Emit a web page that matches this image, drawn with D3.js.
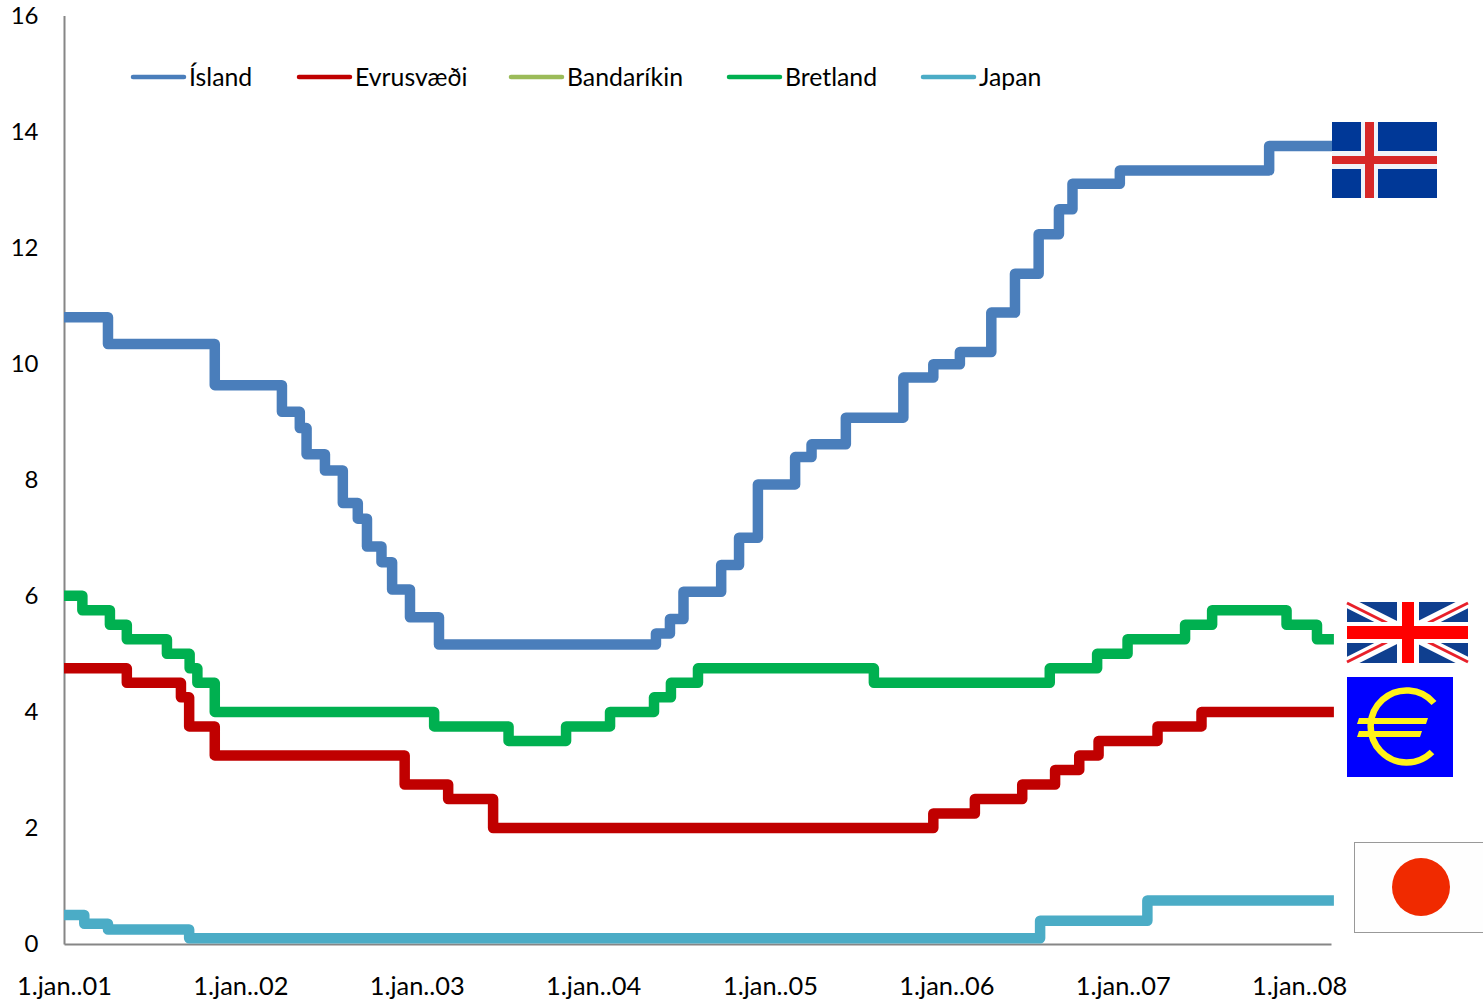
<!DOCTYPE html>
<html>
<head>
<meta charset="utf-8">
<title>Stýrivextir</title>
<script src="https://cdnjs.cloudflare.com/ajax/libs/d3/7.8.5/d3.min.js"></script>
<style>
    html, body { margin: 0; padding: 0; background: #fff; }
    svg { display: block; }
    text { font-family: Lato, "Open Sans", sans-serif; font-size: 24.8px; fill: #000; }
    .xAxis text { font-size: 25.4px; }
    .yAxis text { font-size: 24px; }
</style>
</head>
<body>
<div id="canvas"></div>
<script>
// policy rates, each date is the day a new rate starts
const islandDates = ["2001-01-01", "2001-04-02", "2001-11-09", "2002-03-28", "2002-05-04", "2002-05-18", "2002-06-25", "2002-08-01", "2002-09-01", "2002-09-20", "2002-10-20", "2002-11-11", "2002-12-18", "2003-02-16", "2004-05-10", "2004-06-08", "2004-07-06", "2004-09-22", "2004-10-29", "2004-12-07", "2005-02-22", "2005-03-28", "2005-06-07", "2005-10-04", "2005-12-05", "2006-01-29", "2006-04-04", "2006-05-23", "2006-07-11", "2006-08-22", "2006-09-19", "2006-12-26", "2007-10-31"];
const islandRates = [10.8, 10.34, 9.63, 9.17, 8.89, 8.44, 8.16, 7.6, 7.33, 6.85, 6.58, 6.11, 5.63, 5.16, 5.35, 5.6, 6.07, 6.53, 7.0, 7.92, 8.39, 8.61, 9.07, 9.76, 9.99, 10.2, 10.88, 11.55, 12.23, 12.66, 13.1, 13.33, 13.75];

const evruDates = ["2001-01-01", "2001-05-11", "2001-08-31", "2001-09-17", "2001-11-09", "2002-12-07", "2003-03-07", "2003-06-08", "2005-12-05", "2006-03-01", "2006-06-07", "2006-08-14", "2006-10-03", "2006-11-12", "2007-03-14", "2007-06-13"];
const evruRates = [4.75, 4.5, 4.25, 3.75, 3.25, 2.75, 2.5, 2.0, 2.25, 2.5, 2.75, 3.0, 3.25, 3.5, 3.75, 4.0];

// no line for the US in the chart, only the legend entry
const bandarikinDates = [];
const bandarikinRates = [];

const bretlandDates = ["2001-01-01", "2001-02-08", "2001-04-06", "2001-05-11", "2001-08-02", "2001-09-18", "2001-10-04", "2001-11-09", "2003-02-06", "2003-07-10", "2003-11-06", "2004-02-05", "2004-05-06", "2004-06-10", "2004-08-05", "2005-08-04", "2006-08-03", "2006-11-09", "2007-01-11", "2007-05-10", "2007-07-05", "2007-12-06", "2008-02-07"];
const bretlandRates = [6.0, 5.75, 5.5, 5.25, 5.0, 4.75, 4.5, 4.0, 3.75, 3.5, 3.75, 4.0, 4.25, 4.5, 4.75, 4.5, 4.75, 5.0, 5.25, 5.5, 5.75, 5.5, 5.25];

const japanDates = ["2001-01-01", "2001-02-12", "2001-04-02", "2001-09-17", "2006-07-14", "2007-02-21"];
const japanRates = [0.5, 0.35, 0.25, 0.1, 0.4, 0.75];

const lastDate = "2008-03-13";

const seriesNames = ["Ísland", "Evrusvæði", "Bandaríkin", "Bretland", "Japan"];
const seriesDates = [islandDates, evruDates, bandarikinDates, bretlandDates, japanDates];
const seriesRates = [islandRates, evruRates, bandarikinRates, bretlandRates, japanRates];
const seriesColors = ["#4a7ebb", "#c00000", "#9bbb59", "#00b050", "#4bacc6"];

const xTickDates = ["2001-01-01", "2002-01-01", "2003-01-01", "2004-01-01", "2005-01-01", "2006-01-01", "2007-01-01", "2008-01-01"];
const xTickLabels = ["1.jan..01", "1.jan..02", "1.jan..03", "1.jan..04", "1.jan..05", "1.jan..06", "1.jan..07", "1.jan..08"];
const yTicks = [0, 2, 4, 6, 8, 10, 12, 14, 16];

const width = 1483;
const height = 1007;
const parseDate = d3.timeParse("%Y-%m-%d");

const x = d3.scaleTime()
    .domain([parseDate("2001-01-01"), parseDate("2008-03-07")])
    .range([64, 1331]);
const y = d3.scaleLinear()
    .domain([0, 16])
    .range([944, 15.5]);

const canvas = d3.select("#canvas")
    .append("svg")
    .attr("width", width)
    .attr("height", height);

/* AXES */
const xAxis = d3.axisBottom(x)
    .tickValues(xTickDates.map(parseDate))
    .tickFormat((d, i) => xTickLabels[i])
    .tickSize(0)
    .tickPadding(33);
const yAxis = d3.axisLeft(y)
    .tickValues(yTicks)
    .tickSize(0)
    .tickPadding(25.5);

canvas.append("g").attr("class", "xAxis").attr("transform", `translate(0,${y(0)})`).call(xAxis);
canvas.append("g").attr("class", "yAxis").attr("transform", `translate(${x.range()[0]},0)`).call(yAxis);
canvas.selectAll(".domain").attr("stroke", "#868686").attr("stroke-width", 2);

/* LINES */
const line = d3.line()
    .curve(d3.curveStepAfter)
    .x(d => x(d.date))
    .y(d => y(d.rate));

const series = seriesNames.map((name, i) => {
    const points = seriesDates[i].map((d, j) => ({ date: parseDate(d), rate: seriesRates[i][j] }));
    if (points.length) points.push({ date: parseDate(lastDate), rate: points[points.length - 1].rate });
    return { name: name, color: seriesColors[i], points: points };
});

canvas.selectAll(".rate")
    .data(series.filter(d => d.points.length))
    .join("path")
    .attr("class", "rate")
    .attr("fill", "none")
    .attr("stroke", d => d.color)
    .attr("stroke-width", 10.5)
    .attr("stroke-linejoin", "round")
    .attr("d", d => line(d.points));

/* LEGEND */
const legendLeft = [131, 297, 509, 727, 921];
const legend = canvas.selectAll(".legend")
    .data(series)
    .join("g")
    .attr("class", "legend")
    .attr("transform", (d, i) => `translate(${legendLeft[i]},77)`);
legend.append("line")
    .attr("x1", 2)
    .attr("x2", 53)
    .attr("stroke", d => d.color)
    .attr("stroke-width", 4.5)
    .attr("stroke-linecap", "round");
legend.append("text")
    .attr("x", 58)
    .attr("y", 9)
    .text(d => d.name);

/* FLAGS */
const iceland = canvas.append("g").attr("transform", "translate(1332,122)");
iceland.append("rect").attr("width", 105).attr("height", 76).attr("fill", "#003897");
iceland.append("rect").attr("x", 29).attr("width", 17).attr("height", 76).attr("fill", "#f0f3f8");
iceland.append("rect").attr("y", 29).attr("width", 105).attr("height", 18).attr("fill", "#f0f3f8");
iceland.append("rect").attr("x", 33).attr("width", 9).attr("height", 76).attr("fill", "#d72828");
iceland.append("rect").attr("y", 34).attr("width", 105).attr("height", 8).attr("fill", "#d72828");

const uk = canvas.append("g").attr("transform", "translate(1347,602)");
uk.append("rect").attr("width", 121).attr("height", 61).attr("fill", "#0f3f8f");
uk.append("path").attr("d", "M0 0L121 61M121 0L0 61").attr("stroke", "#fff").attr("stroke-width", 11);
uk.append("path").attr("d", "M0 1L40 21M121 1L81 21M0 60L40 40M121 60L81 40").attr("stroke", "#e8202a").attr("stroke-width", 3);
uk.append("rect").attr("x", 50).attr("width", 22).attr("height", 61).attr("fill", "#fff");
uk.append("rect").attr("y", 20).attr("width", 121).attr("height", 21).attr("fill", "#fff");
uk.append("rect").attr("x", 55).attr("width", 12).attr("height", 61).attr("fill", "#ff0000");
uk.append("rect").attr("y", 24).attr("width", 121).attr("height", 13).attr("fill", "#ff0000");

const euro = canvas.append("g").attr("transform", "translate(1347,677)");
euro.append("rect").attr("width", 106).attr("height", 100).attr("fill", "#0000ff");
euro.append("path").attr("d", "M87 26A36 36 0 1 0 85 75").attr("fill", "none").attr("stroke", "#fff21a").attr("stroke-width", 6.5);
euro.append("path").attr("d", "M12 41L81 41L79 47L10 47ZM12 54L75 54L73 60L10 60Z").attr("fill", "#fff21a");

const japan = canvas.append("g").attr("transform", "translate(1354,842)");
japan.append("rect").attr("x", 0.5).attr("y", 0.5).attr("width", 140).attr("height", 90).attr("fill", "#fefefe").attr("stroke", "#999").attr("stroke-width", 1);
japan.append("circle").attr("cx", 67).attr("cy", 45).attr("r", 29).attr("fill", "#f02a00");
</script>
</body>
</html>
